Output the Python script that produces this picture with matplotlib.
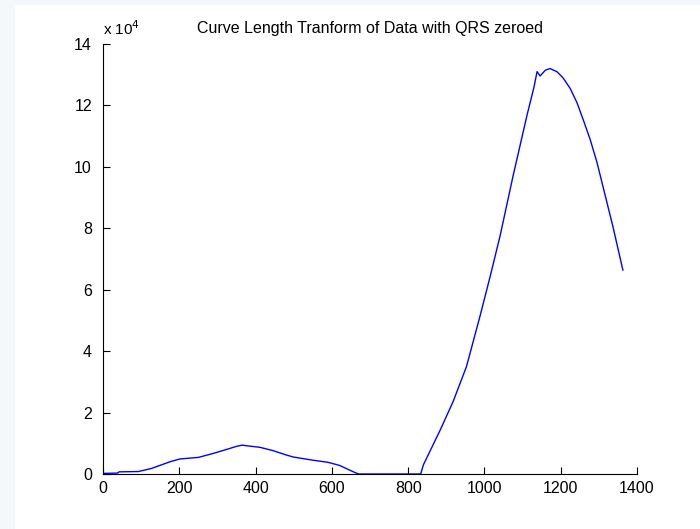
import numpy as np
import matplotlib.pyplot as plt
from matplotlib.patches import Rectangle

plt.rcParams['font.family'] = ['Liberation Sans', 'DejaVu Sans']

# curve, y in units of 1e4
x_vals = [0, 38, 42, 93, 127, 176, 202, 250, 289, 324, 350, 365, 376, 411,
          446, 480, 500, 550, 590, 620, 660, 670, 833, 840, 884, 918, 953,
          988, 1015, 1041, 1075, 1112, 1130, 1138, 1146, 1160, 1172, 1190,
          1206, 1225, 1243, 1260, 1277, 1295, 1311, 1337, 1363]
y_vals = [0.02, 0.03, 0.07, 0.08, 0.18, 0.4, 0.49, 0.54, 0.67, 0.8, 0.9, 0.94,
          0.92, 0.87, 0.76, 0.62, 0.55, 0.45, 0.38, 0.28, 0.05, 0.0, 0.0, 0.3,
          1.43, 2.36, 3.5, 5.12, 6.43, 7.75, 9.7, 11.7, 12.6, 13.1, 12.96,
          13.15, 13.2, 13.1, 12.9, 12.55, 12.08, 11.5, 10.9, 10.15, 9.35,
          8.05, 6.64]

x_ticks = [0, 200, 400, 600, 800, 1000, 1200, 1400]
y_ticks = [0, 2, 4, 6, 8, 10, 12, 14]
title = 'Curve Length Tranform of Data with QRS zeroed'

fig = plt.figure(figsize=(7, 5.29), dpi=100)
# light border strips of the screenshot
fig.patches.append(Rectangle((0, 0), 14 / 700, 1, transform=fig.transFigure,
                             color='#f4f8fb', zorder=0))
fig.patches.append(Rectangle((0, 1 - 4 / 529), 1, 4 / 529, transform=fig.transFigure,
                             color='#f4f8fb', zorder=0))

ax = fig.add_axes([103 / 700, 1 - 474 / 529, 534 / 700, 430 / 529])
ax.plot(x_vals, y_vals, color='#0000ff', linewidth=1)

ax.set_xlim(0, 1400)
ax.set_ylim(0, 14)
ax.set_xticks(x_ticks)
ax.set_yticks(y_ticks)
ax.tick_params(direction='in', length=5, labelsize=11.5)
ax.tick_params(axis='x', pad=5)
ax.tick_params(axis='y', pad=8)
ax.spines['top'].set_visible(False)
ax.spines['right'].set_visible(False)
for s in ('left', 'bottom'):
    ax.spines[s].set_linewidth(0.8)
ax.patch.set_alpha(0)

ax.set_title(title, fontsize=11.5, pad=8)
ax.text(0.0, 1.014, r'x 10$^4$', transform=ax.transAxes, fontsize=11,
        ha='left', va='bottom')

fig.savefig('out.png', dpi=100)
